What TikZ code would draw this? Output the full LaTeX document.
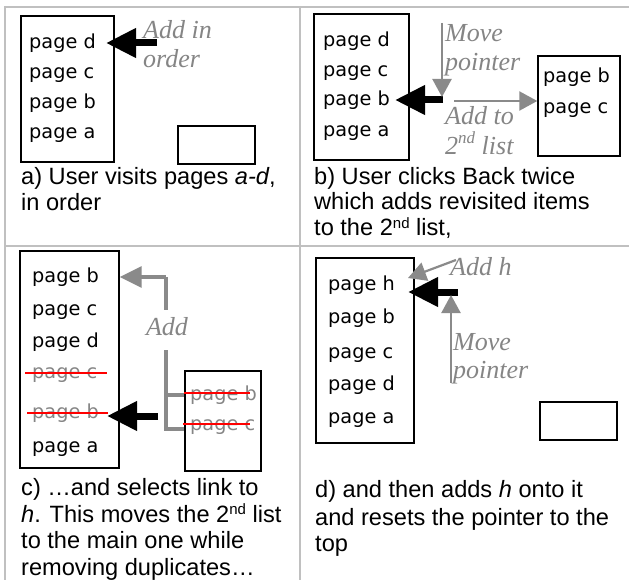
\documentclass[tikz,border=0pt]{standalone}
\usepackage{fontspec}
\usetikzlibrary{arrows.meta}
\newfontfamily\listfont{DejaVu Sans}
\newfontfamily\capfont{Liberation Sans}
\newfontfamily\notefont{Liberation Serif}
\definecolor{gridgray}{HTML}{C0C0C0}
\definecolor{notegray}{HTML}{858585}
\definecolor{linegray}{HTML}{8A8A8A}
\definecolor{strikered}{HTML}{FF0000}
% raised ordinal suffixes for the captions and the italic notes
\newcommand\capsup[1]{\raisebox{0.3em}{\fontsize{15}{15}\selectfont #1}}
\newcommand\notesup[1]{\raisebox{0.45em}{\fontsize{17}{17}\selectfont #1}}

\begin{document}
\begin{tikzpicture}[x=1pt,y=-1pt,
  tablerule/.style={draw=gridgray,line width=2pt},
  listbox/.style={draw=black,line width=1.4pt,inner sep=0pt},
  item/.style={anchor=base west,inner sep=0pt,font=\listfont\fontsize{19.3}{19.3}\selectfont},
  olditem/.style={item,text=notegray},
  strikeline/.style={draw=strikered,line width=1.5pt},
  captext/.style={anchor=base west,inner sep=0pt,text height=17pt,text depth=5pt,
    font=\capfont\fontsize{23.6}{23.6}\selectfont},
  note/.style={anchor=base west,inner sep=0pt,text=notegray,font=\notefont\itshape\fontsize{26}{26}\selectfont},
  bigarrow/.style={draw=black,line width=7pt,-{Triangle[length=30pt,width=28pt]}},
  thinarrow/.style={draw=linegray,line width=2.2pt,-{Triangle[length=18pt,width=19pt]}},
  thickarrow/.style={draw=linegray,line width=3.3pt,-{Triangle[length=22pt,width=21pt]}},
  bracketline/.style={draw=linegray,line width=3.3pt},
]
\useasboundingbox (0,0) rectangle (629,580);
\fill[white] (0,0) rectangle (629,580);

% table rules
\draw[tablerule] (5,7) -- (629,7);
\draw[tablerule] (5,246) -- (629,246);
\draw[tablerule] (5,6) -- (5,580);
\draw[tablerule] (300,6) -- (300,580);

% ---------- a) ----------
\node[listbox,minimum width=93pt,minimum height=146pt] (aList) at (67.5,89) {};
\node[item] (aD) at (29,49) {page d};
\node[item] (aC) at (29,79) {page c};
\node[item] (aB) at (29,109) {page b};
\node[item] (aA) at (29,139) {page a};
\node[listbox,minimum width=77pt,minimum height=38pt] (aBack) at (216.5,145) {};
\coordinate (aTail) at (157,43);
\coordinate (aTip) at (106,43);
\draw[bigarrow] (aTail) -- (aTip);
\node[note] (aNoteA) at (143,39) {Add in};
\node[note] (aNoteB) at (143,68) {order};
\node[captext] (aCapA) at (21,185) {a) User visits pages \textit{a-d},};
\node[captext] (aCapB) at (21,211) {in order};

% ---------- b) ----------
\node[listbox,minimum width=95pt,minimum height=146pt] (bList) at (361.5,87) {};
\node[item] (bD) at (323,47) {page d};
\node[item] (bC) at (323,77) {page c};
\node[item] (bB) at (323,106) {page b};
\node[item] (bA) at (323,137) {page a};
\node[listbox,minimum width=82pt,minimum height=100pt] (bBack) at (579,106) {};
\node[item] (bBackB) at (543,83) {page b};
\node[item] (bBackC) at (543,114) {page c};
\coordinate (bTail) at (443,100);
\coordinate (bTip) at (395,100);
\draw[bigarrow] (bTail) -- (bTip);
\coordinate (bMoveTop) at (442,23);
\coordinate (bMoveEnd) at (442,97);
\draw[thinarrow] (bMoveTop) -- (bMoveEnd);
\coordinate (bAddStart) at (454,101);
\draw[thinarrow] (bAddStart) -- (bAddStart -| bBack.west);
\node[note] (bNoteA) at (445,42) {Move};
\node[note] (bNoteB) at (445,71) {pointer};
\node[note] (bNoteC) at (445,125) {Add to};
\node[note] (bNoteD) at (445,155) {2\notesup{nd} list};
\node[captext] (bCapA) at (314,185) {b) User clicks Back twice};
\node[captext] (bCapB) at (314,210) {which adds revisited items};
\node[captext] (bCapC) at (314,236) {to the 2\capsup{nd} list,};

% ---------- c) ----------
\node[listbox,minimum width=99pt,minimum height=217pt] (cList) at (69.5,359.5) {};
\node[item] (cB) at (32,282) {page b};
\node[item] (cC) at (32,315) {page c};
\node[item] (cD) at (32,347) {page d};
\node[olditem] (cOldC) at (32,378) {page c};
\node[olditem] (cOldB) at (32,418) {page b};
\node[item] (cA) at (32,452) {page a};
\draw[strikeline] (25,373) -- (107,373);
\draw[strikeline] (27,413) -- (108,413);
\node[listbox,minimum width=76pt,minimum height=100pt] (cBack) at (223,421) {};
\node[olditem] (cBackB) at (190,400) {page b};
\node[olditem] (cBackC) at (190,430) {page c};
\draw[strikeline] (184,393) -- (250,393);
\draw[strikeline] (183,424) -- (250,424);
\coordinate (cTail) at (158,416);
\coordinate (cTip) at (107,416);
\draw[bigarrow] (cTail) -- (cTip);
\coordinate (cTop) at (166,277);
\coordinate (cGapTop) at (166,310);
\coordinate (cGapEnd) at (166,350);
\coordinate (cFork) at (166,395);
\coordinate (cFoot) at (166,429);
\draw[thickarrow] (cTop) -- (cTop -| cList.east);
\draw[bracketline] (cTop) -- (cGapTop);
\draw[bracketline] (cGapEnd) -- (cFoot) -- (cFoot -| cBack.west);
\draw[bracketline] (cFork) -- (cFork -| cBack.west);
\node[note,anchor=base] (cNote) at (167,335) {Add};
\node[captext] (cCapA) at (21,495) {c) …and selects link to};
\node[captext] (cCapB) at (21,522) {\textit{h}. This moves the 2\capsup{nd} list};
\node[captext] (cCapC) at (21,548) {to the main one while};
\node[captext] (cCapD) at (21,575) {removing duplicates…};

% ---------- d) ----------
\node[listbox,minimum width=98pt,minimum height=185pt] (dList) at (365,350.5) {};
\node[item] (dH) at (328,290) {page h};
\node[item] (dB) at (328,323) {page b};
\node[item] (dC) at (328,358) {page c};
\node[item] (dD) at (328,390) {page d};
\node[item] (dA) at (328,423) {page a};
\node[listbox,minimum width=77pt,minimum height=38pt] (dBack) at (578.5,421) {};
\coordinate (dTail) at (458,292);
\coordinate (dTip) at (408,292);
\draw[bigarrow] (dTail) -- (dTip);
\coordinate (dMoveFoot) at (451,383);
\coordinate (dMoveEnd) at (451,295);
\draw[thinarrow] (dMoveFoot) -- (dMoveEnd);
\coordinate (dAddStart) at (456,260);
\coordinate (dAddEnd) at (408,278);
\draw[thinarrow] (dAddStart) -- (dAddEnd);
\node[note] (dNoteA) at (450,275) {Add h};
\node[note] (dNoteB) at (453,350) {Move};
\node[note] (dNoteC) at (453,378) {pointer};
\node[captext] (dCapA) at (315,497) {d) and then adds \textit{h} onto it};
\node[captext] (dCapB) at (315,525) {and resets the pointer to the};
\node[captext] (dCapC) at (315,551) {top};
\end{tikzpicture}
\end{document}
